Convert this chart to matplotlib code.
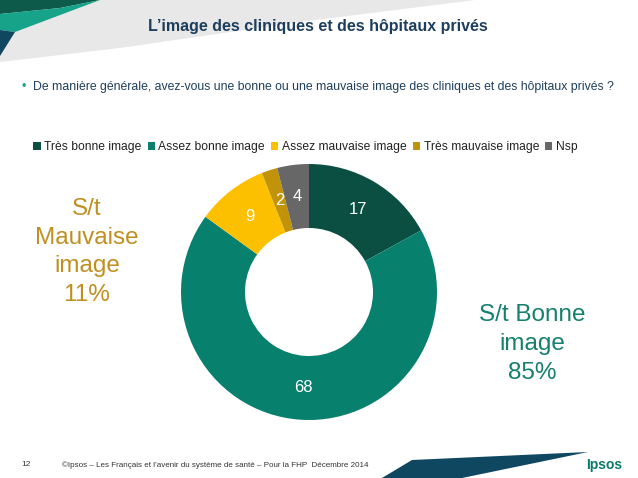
import matplotlib
matplotlib.use("Agg")
import matplotlib.pyplot as plt
from matplotlib.patches import Polygon

plt.rcParams['font.family'] = ['Liberation Sans', 'DejaVu Sans']

categories = ["Très bonne image", "Assez bonne image", "Assez mauvaise image",
              "Très mauvaise image", "Nsp"]
values = [17, 68, 9, 2, 4]
colors = ["#0b4f43", "#08806e", "#fcc000", "#c0930a", "#676767"]

title = "L\u2019image des cliniques et des hôpitaux privés"
question = ("De manière générale, avez-vous une bonne ou une mauvaise image "
            "des cliniques et des hôpitaux privés ?")
footer = "©Ipsos – Les Français et l\u2019avenir du système de santé – Pour la FHP  Décembre 2014"

W, H = 638, 478
fig = plt.figure(figsize=(W / 100, H / 100), dpi=100)

# background decoration axes (pixel coordinates)
bg = fig.add_axes([0, 0, 1, 1])
bg.set_xlim(0, W)
bg.set_ylim(H, 0)
bg.axis("off")
bg.add_patch(Polygon([(0, 0), (475, 0), (300, 22), (120, 48), (0, 62)],
                     closed=True, color="#e8e8e8", lw=0))
bg.add_patch(Polygon([(0, 0), (100, 0), (60, 8), (0, 14)], closed=True,
                     color="#0e5a4a", lw=0))
bg.add_patch(Polygon([(0, 14), (60, 8), (100, 0), (15, 32), (0, 30)],
                     closed=True, color="#16a38a", lw=0))
bg.add_patch(Polygon([(0, 30), (15, 32), (0, 56)], closed=True,
                     color="#0f4660", lw=0))
bg.add_patch(Polygon([(382, 478), (412, 460), (588, 452), (462, 478)],
                     closed=True, color="#0f4660", lw=0))

fig.text(318 / W, 1 - 27 / H, title, ha="center", va="center",
         fontsize=11.5, fontweight="bold", color="#1d3e5c")
fig.text(22 / W, 1 - 87 / H, "•", ha="left", va="center", fontsize=9,
         color="#18a58a")
fig.text(33 / W, 1 - 87 / H, question, ha="left", va="center",
         fontsize=8.85, color="#1d3e5c")
fig.text(26 / W, 1 - 465 / H, "12", ha="center", va="center", fontsize=6,
         color="#333333")
fig.text(62 / W, 1 - 465 / H, footer, ha="left", va="center", fontsize=5.8,
         color="#333333")
fig.text(622 / W, 1 - 465 / H, "Ipsos", ha="right", va="center",
         fontsize=10, fontweight="bold", color="#0b7a6a")

# donut
cx, cy, R = 309, 292, 128
ax = fig.add_axes([(cx - R) / W, (H - cy - R) / H, 2 * R / W, 2 * R / H])
wedges, texts = ax.pie(values, colors=colors, startangle=90, counterclock=False,
                       radius=1.0, wedgeprops=dict(width=0.5, linewidth=0),
                       labels=[str(v) for v in values], labeldistance=0.75,
                       textprops=dict(color="white", fontsize=12, ha="center",
                                      va="center"))
ax.set_xlim(-1, 1)
ax.set_ylim(-1, 1)
ax.set_aspect("equal")

fig.legend(wedges, categories, loc="center", bbox_to_anchor=(305.5 / W, 1 - 147 / H),
           ncol=5, frameon=False, fontsize=8.7, handlelength=0.6,
           handleheight=0.6, handletextpad=0.3, columnspacing=0.5,
           labelcolor="#222222")

fig.text(87 / W, 1 - 252 / H, "S/t\nMauvaise\nimage\n11%", ha="center",
         va="center", fontsize=17.5, color="#bf9021", linespacing=1.4)
fig.text(532 / W, 1 - 344 / H, "S/t Bonne\nimage\n85%", ha="center",
         va="center", fontsize=17.5, color="#16806f", linespacing=1.4)

fig.savefig("out.png", dpi=100)
